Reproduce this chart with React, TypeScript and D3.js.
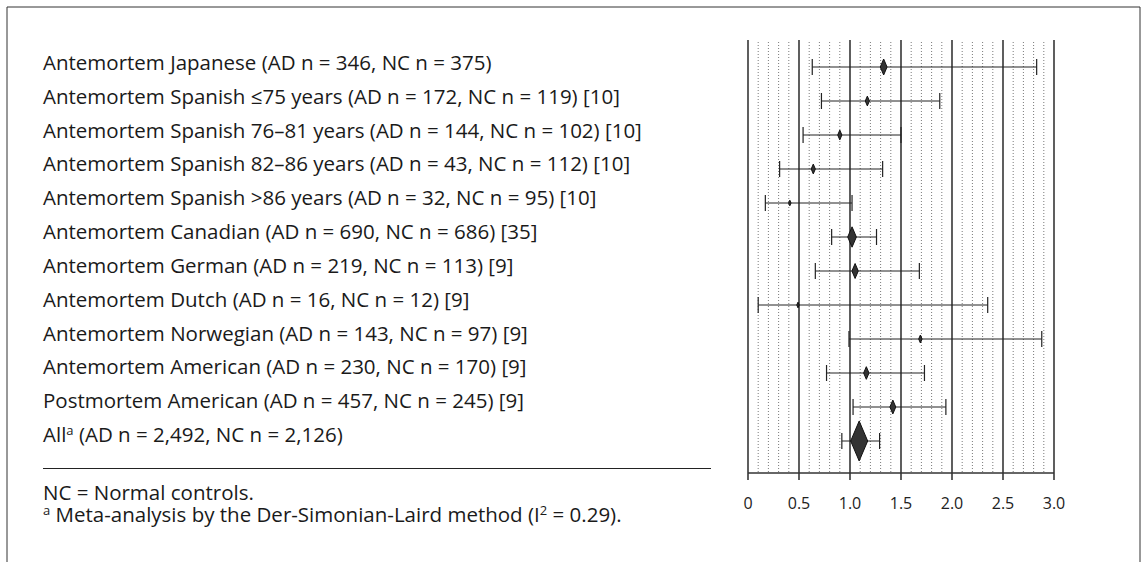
import React from 'react';
import * as d3 from 'd3';

// study rows, top to bottom
const studies = [
  'Antemortem Japanese (AD n = 346, NC n = 375)',
  'Antemortem Spanish \u226475 years (AD n = 172, NC n = 119) [10]',
  'Antemortem Spanish 76\u201381 years (AD n = 144, NC n = 102) [10]',
  'Antemortem Spanish 82\u201386 years (AD n = 43, NC n = 112) [10]',
  'Antemortem Spanish >86 years (AD n = 32, NC n = 95) [10]',
  'Antemortem Canadian (AD n = 690, NC n = 686) [35]',
  'Antemortem German (AD n = 219, NC n = 113) [9]',
  'Antemortem Dutch (AD n = 16, NC n = 12) [9]',
  'Antemortem Norwegian (AD n = 143, NC n = 97) [9]',
  'Antemortem American (AD n = 230, NC n = 170) [9]',
  'Postmortem American (AD n = 457, NC n = 245) [9]',
  'All',
];
const estimates = [1.33, 1.17, 0.9, 0.64, 0.41, 1.02, 1.05, 0.49, 1.69, 1.16, 1.42, 1.09];
const lower = [0.63, 0.72, 0.54, 0.31, 0.17, 0.82, 0.66, 0.1, 0.99, 0.77, 1.03, 0.92];
const upper = [2.83, 1.88, 1.5, 1.32, 1.02, 1.26, 1.68, 2.35, 2.88, 1.73, 1.94, 1.29];
const weights = [8, 3, 3, 3, 1, 13, 7, 1, 2, 5, 6, 50];
const xTicks = [0, 0.5, 1.0, 1.5, 2.0, 2.5, 3.0];

const FONT = '"Open Sans", "Noto Sans", sans-serif';

const App = () => {
  const width = 1144;
  const height = 562;

  const x = d3.scaleLinear().domain([0, 3]).range([748, 1054]);
  const yRow = d3.scalePoint<number>().domain(d3.range(studies.length)).range([67, 441]);
  const yText = d3.scalePoint<number>().domain(d3.range(studies.length)).range([63, 435]);
  const size = d3.scaleSqrt().domain([0, 50]).range([0, 8.5]);

  const minor = x.ticks(30).filter(t => Math.abs(t * 2 - Math.round(t * 2)) > 1e-6);
  const fmt = (d: number) => (d === 0 ? '0' : d3.format('.1f')(d));

  const plotTop = 40;
  const axisY = 473;
  const fs = 20.5;

  return (
    <svg width={width} height={height} style={{ position: 'absolute', left: 0, top: 0, background: '#fff' }}
      fontFamily={FONT}>
      {/* frame */}
      <path d="M7,562 V7 H1140 V562" fill="none" stroke="#333" strokeWidth={1} />

      {/* minor dotted grid */}
      {minor.map(t => (
        <line key={'m' + t} x1={x(t)} x2={x(t)} y1={plotTop + 2} y2={axisY}
          stroke="#7a7a7a" strokeWidth={1} strokeDasharray="1,2" />
      ))}
      {/* major lines */}
      {xTicks.map(t => (
        <line key={'M' + t} x1={x(t)} x2={x(t)} y1={plotTop} y2={axisY + 7}
          stroke="#1a1a1a" strokeWidth={1.4} />
      ))}
      <line x1={x(0)} x2={x(3)} y1={axisY} y2={axisY} stroke="#333" strokeWidth={1.3} />
      {xTicks.map(t => (
        <text key={'t' + t} x={x(t)} y={509} textAnchor="middle" fontSize={16} fill="#222">{fmt(t)}</text>
      ))}

      {/* intervals and diamonds */}
      {studies.map((s, i) => {
        const cy = yRow(i) as number;
        const hw = size(weights[i]);
        const hh = hw * 2.35;
        const cx = x(estimates[i]);
        return (
          <g key={'r' + i}>
            <line x1={x(lower[i])} x2={x(upper[i])} y1={cy} y2={cy} stroke="#222" strokeWidth={1} />
            <line x1={x(lower[i])} x2={x(lower[i])} y1={cy - 8} y2={cy + 8} stroke="#222" strokeWidth={1.2} />
            <line x1={x(upper[i])} x2={x(upper[i])} y1={cy - 8} y2={cy + 8} stroke="#222" strokeWidth={1.2} />
            <path d={`M${cx},${cy - hh} L${cx + hw},${cy} L${cx},${cy + hh} L${cx - hw},${cy} Z`}
              fill="#333" stroke="#111" strokeWidth={1} />
          </g>
        );
      })}

      {/* labels */}
      {studies.map((s, i) => (
        <text key={'l' + i} x={43} y={(yText(i) as number) + 7} fontSize={fs} fill="#1a1a1a">
          {i === studies.length - 1 ? (
            <>
              {s}
              <tspan fontSize={13} dy={-7}>a</tspan>
              <tspan dy={7}>{' (AD n = 2,492, NC n = 2,126)'}</tspan>
            </>
          ) : s}
        </text>
      ))}

      <line x1={43} x2={711} y1={468.5} y2={468.5} stroke="#222" strokeWidth={1.2} />
      <text x={43} y={500} fontSize={fs} fill="#1a1a1a">NC = Normal controls.</text>
      <text x={43} y={522} fontSize={fs} fill="#1a1a1a">
        <tspan fontSize={13} dy={-7}>a</tspan>
        <tspan dy={7}>{' Meta-analysis by the Der-Simonian-Laird method (I'}</tspan>
        <tspan fontSize={13} dy={-7}>2</tspan>
        <tspan dy={7}>{' = 0.29).'}</tspan>
      </text>
    </svg>
  );
};

export default App;
